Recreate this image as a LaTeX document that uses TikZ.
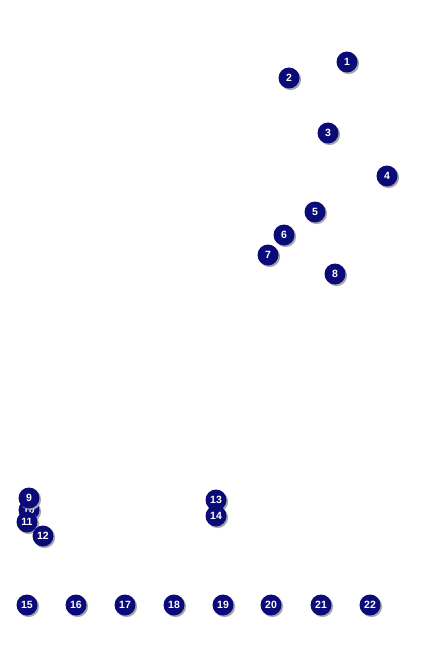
\documentclass[tikz,border=0pt]{standalone}
\usepackage{fontspec}
\setmainfont{Liberation Sans}
\definecolor{navyb}{RGB}{10,10,120}
\begin{document}
\begin{tikzpicture}[x=1pt,y=-1pt,
  badge/.style={circle,fill=navyb,minimum size=21pt,inner sep=0pt,text=white,
    font=\fontsize{10.5}{10.5}\selectfont\bfseries,
    preaction={fill=black!35,transform canvas={xshift=1.6pt,yshift=-1.6pt}}}]
\useasboundingbox[fill=white] (0,0) rectangle (433,650);
\node[badge] (n10) at (29,510) {10};
\foreach \n/\x/\y in {1/347/62,2/289/78,3/328/133,4/387/176,5/315/212,6/284/235,7/268/255,8/335/274,
  9/29/498,11/27/522,12/43/536,13/216/500,14/216/516,
  15/27/605,16/76/605,17/125/605,18/174/605,19/223/605,20/271/605,21/321/605,22/370/605}
  \node[badge] (n\n) at (\x,\y) {\n};
\end{tikzpicture}
\end{document}
